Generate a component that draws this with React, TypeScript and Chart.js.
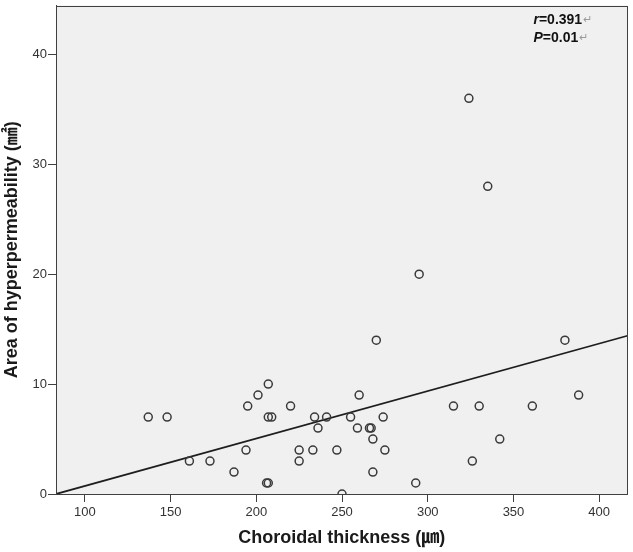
import React, { useEffect, useRef } from "react";
import { Chart, registerables } from "chart.js";

Chart.register(...registerables);

// Choroidal thickness (µm) and area of hyperpermeability (mm²)
const thicknessUm = [
  137, 148, 161, 173, 187, 194, 195, 201, 206, 207, 207, 207, 209, 220, 225,
  225, 233, 234, 236, 241, 247, 250, 255, 259, 260, 266, 267, 268, 268, 270,
  274, 275, 293, 295, 315, 324, 326, 330, 335, 342, 361, 380, 388,
];
const areaMm2 = [
  7, 7, 3, 3, 2, 4, 8, 9, 1, 1, 10, 7, 7, 8, 4,
  3, 4, 7, 6, 7, 4, 0, 7, 6, 9, 6, 6, 5, 2, 14,
  7, 4, 1, 20, 8, 36, 3, 8, 28, 5, 8, 14, 9,
];

// Fit line end points
const fitX = [83.2, 416.5];
const fitY = [0, 14.4];

// Axis ranges and ticks
const xRange = [83.2, 416.5];
const yRange = [0, 44.45];
const xTicks = [100, 150, 200, 250, 300, 350, 400];
const yTicks = [0, 10, 20, 30, 40];

const xTitle = "Choroidal thickness (㎛)";
const yTitle = "Area of hyperpermeability (㎟)";
const statLines = [
  { label: "r", value: "=0.391" },
  { label: "P", value: "=0.01" },
];

const AXIS_COLOR = "#404040";
const FONT = "Arial, 'Liberation Sans', 'Noto Sans CJK JP', sans-serif";

const framePlugin = {
  id: "frameAndStats",
  beforeDraw(chart: any) {
    const { ctx, chartArea: a } = chart;
    ctx.save();
    ctx.fillStyle = "#f0f0f0";
    ctx.fillRect(a.left, a.top, a.right - a.left, a.bottom - a.top);
    ctx.restore();
  },
  afterDraw(chart: any) {
    const { ctx, chartArea: a } = chart;
    ctx.save();
    ctx.strokeStyle = AXIS_COLOR;
    ctx.lineWidth = 1;
    ctx.strokeRect(
      Math.round(a.left) + 0.5,
      Math.round(a.top) + 0.5,
      Math.round(a.right - a.left) - 1,
      Math.round(a.bottom - a.top) - 1
    );
    // statistics text
    ctx.textBaseline = "middle";
    const x0 = a.right - 94;
    statLines.forEach((s, i) => {
      const y = a.top + 15 + i * 18;
      let x = x0;
      ctx.fillStyle = "#111";
      ctx.font = `italic bold 14px ${FONT}`;
      ctx.fillText(s.label, x, y);
      x += ctx.measureText(s.label).width;
      ctx.font = `bold 14px ${FONT}`;
      ctx.fillText(s.value, x, y);
      x += ctx.measureText(s.value).width + 1;
      ctx.fillStyle = "#9a9a9a";
      ctx.font = `11px 'DejaVu Sans', sans-serif`;
      ctx.fillText("↵", x, y);
    });
    ctx.restore();
  },
};

export default function App() {
  const canvasRef = useRef<HTMLCanvasElement | null>(null);

  useEffect(() => {
    const canvas = canvasRef.current;
    if (!canvas) return;
    const points = thicknessUm.map((x, i) => ({ x, y: areaMm2[i] }));
    const fit = fitX.map((x, i) => ({ x, y: fitY[i] }));

    const chart = new Chart(canvas, {
      type: "scatter",
      data: {
        datasets: [
          {
            type: "line",
            data: fit,
            borderColor: "#1e1e1e",
            borderWidth: 1.8,
            pointRadius: 0,
            fill: false,
            order: 2,
          } as any,
          {
            type: "scatter",
            data: points,
            pointStyle: "circle",
            pointRadius: 4,
            pointBorderWidth: 1.5,
            borderColor: "#3a3a3a",
            backgroundColor: "rgba(0,0,0,0)",
            clip: 0,
            order: 1,
          } as any,
        ],
      },
      options: {
        animation: false,
        responsive: false,
        maintainAspectRatio: false,
        layout: { padding: { left: 0, right: 2, top: 1, bottom: 0 } },
        plugins: {
          legend: { display: false },
          tooltip: { enabled: false },
        },
        scales: {
          x: {
            type: "linear",
            position: "bottom",
            min: xRange[0],
            max: xRange[1],
            afterBuildTicks: (s: any) => {
              s.ticks = xTicks.map((v) => ({ value: v }));
            },
            afterFit: (s: any) => {
              s.height = 58;
              s.paddingLeft = 0;
              s.paddingRight = 0;
            },
            ticks: {
              color: "#333",
              font: { family: FONT, size: 13 },
              padding: 3,
              maxRotation: 0,
            },
            grid: {
              display: true,
              drawOnChartArea: false,
              drawTicks: true,
              tickLength: 8,
              color: AXIS_COLOR,
            },
            border: { display: true, color: AXIS_COLOR, width: 1 },
            title: {
              display: true,
              text: xTitle,
              color: "#1a1a1a",
              font: { family: FONT, size: 18, weight: "bold" },
              padding: { top: 0, bottom: 3 },
            },
          },
          y: {
            type: "linear",
            position: "left",
            min: yRange[0],
            max: yRange[1],
            afterBuildTicks: (s: any) => {
              s.ticks = yTicks.map((v) => ({ value: v }));
            },
            afterFit: (s: any) => {
              s.width = 56;
              s.paddingTop = 0;
              s.paddingBottom = 0;
            },
            ticks: {
              color: "#333",
              font: { family: FONT, size: 13 },
              padding: 1,
            },
            grid: {
              display: true,
              drawOnChartArea: false,
              drawTicks: true,
              tickLength: 8,
              color: AXIS_COLOR,
            },
            border: { display: true, color: AXIS_COLOR, width: 1 },
            title: {
              display: true,
              text: yTitle,
              color: "#1a1a1a",
              font: { family: FONT, size: 18, weight: "bold" },
              padding: { top: 1, bottom: 0 },
            },
          },
        },
      },
      plugins: [framePlugin],
    } as any);

    return () => chart.destroy();
  }, []);

  return (
    <div
      style={{
        position: "absolute",
        left: 0,
        top: 0,
        width: 633,
        height: 552,
        background: "#ffffff",
      }}
    >
      <canvas ref={canvasRef} width={633} height={552} />
    </div>
  );
}
